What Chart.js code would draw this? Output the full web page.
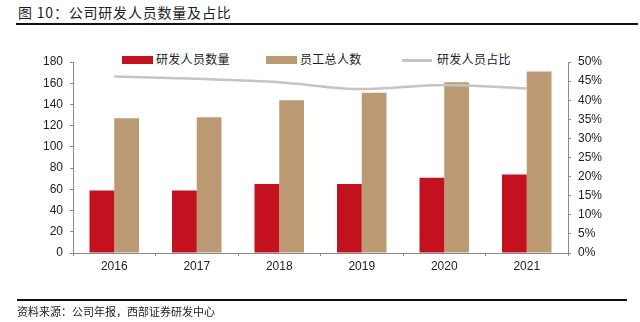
<!DOCTYPE html>
<html>
<head>
<meta charset="utf-8">
<script src="https://cdn.jsdelivr.net/npm/chart.js@4.4.1/dist/chart.umd.min.js"></script>
<style>
    body { margin: 0; background: #fff; }
    #wrap { position: relative; width: 640px; height: 322px; overflow: hidden; font-family: "Noto Sans CJK SC", sans-serif; }
    #title { position: absolute; left: 18px; top: 3px; font-size: 14px; line-height: 18px; letter-spacing: 0.8px; color: #222; }
    #topLine { position: absolute; left: 16px; top: 23px; width: 622px; height: 2px; background: #111; }
    #bottomLine { position: absolute; left: 17px; top: 299px; width: 610px; height: 1.5px; background: #111; }
    #source { position: absolute; left: 17px; top: 304px; font-size: 11px; line-height: 15px; color: #222; }
    .leg { position: absolute; top: 51px; font-size: 12px; line-height: 16px; color: #222; letter-spacing: 0.3px; }
    .box { position: absolute; top: 56px; width: 31px; height: 8px; }
    .lline { position: absolute; top: 59px; width: 30px; height: 2.5px; background: #c4c4c4; }
    canvas { position: absolute; left: 0; top: 0; }
</style>
</head>
<body>
<div id="wrap">
    <div id="title">图 10：公司研发人员数量及占比</div>
    <div id="topLine"></div>
    <div class="box" style="left:122px;background:#c3111f;"></div>
    <div class="leg" style="left:156px;">研发人员数量</div>
    <div class="box" style="left:266px;background:#bb9a74;"></div>
    <div class="leg" style="left:300px;">员工总人数</div>
    <div class="lline" style="left:402px;"></div>
    <div class="leg" style="left:437px;">研发人员占比</div>
    <canvas id="chart" width="640" height="322"></canvas>
    <div id="bottomLine"></div>
    <div id="source">资料来源：公司年报，西部证券研发中心</div>
</div>
<script>
    const years = ["2016", "2017", "2018", "2019", "2020", "2021"];
    const rdStaff = [59, 59, 65, 65, 71, 74];
    const totalStaff = [127, 128, 144, 151, 161, 171];
    const rdShare = [46.2, 45.6, 44.7, 42.9, 44.0, 43.1]; // percent

    const leftTicks = { min: 0, max: 180, step: 20 };
    const rightTicks = { min: 0, max: 50, step: 5 };

    const axisColor = "#8a8a8a";
    const tickFont = { family: "'Liberation Sans', Arial, sans-serif", size: 12 };

    const ctx = document.getElementById("chart").getContext("2d");

    new Chart(ctx, {
        data: {
            labels: years,
            datasets: [
                {
                    type: "line",
                    label: "研发人员占比",
                    data: rdShare,
                    yAxisID: "y1",
                    borderColor: "#c4c4c4",
                    borderWidth: 2.5,
                    pointRadius: 0,
                    tension: 0.4,
                    cubicInterpolationMode: "monotone",
                    order: 0,
                },
                {
                    type: "bar",
                    label: "研发人员数量",
                    data: rdStaff,
                    yAxisID: "y",
                    backgroundColor: "#c3111f",
                    order: 1,
                },
                {
                    type: "bar",
                    label: "员工总人数",
                    data: totalStaff,
                    yAxisID: "y",
                    backgroundColor: "#bb9a74",
                    order: 1,
                },
            ],
        },
        options: {
            responsive: false,
            animation: false,
            devicePixelRatio: 1,
            layout: { padding: { top: 62, left: 0, right: 0, bottom: 0 } },
            datasets: {
                bar: { categoryPercentage: 0.6, barPercentage: 1.0 },
            },
            plugins: {
                legend: { display: false },
                tooltip: { enabled: false },
            },
            scales: {
                x: {
                    grid: { drawOnChartArea: false, color: axisColor, tickLength: 3, offset: true },
                    border: { color: axisColor, width: 1 },
                    ticks: { color: "#222", font: tickFont, padding: 3 },
                    afterFit(scale) { scale.height = 69; },
                },
                y: {
                    position: "left",
                    min: leftTicks.min,
                    max: leftTicks.max,
                    grid: { drawOnChartArea: false, color: axisColor, tickLength: 3 },
                    border: { color: axisColor, width: 1 },
                    ticks: { stepSize: leftTicks.step, color: "#222", font: tickFont, padding: 7 },
                    afterFit(scale) { scale.width = 73; },
                },
                y1: {
                    position: "right",
                    min: rightTicks.min,
                    max: rightTicks.max,
                    grid: { drawOnChartArea: false, color: axisColor, tickLength: 3 },
                    border: { color: axisColor, width: 1 },
                    ticks: {
                        stepSize: rightTicks.step,
                        color: "#222",
                        font: tickFont,
                        padding: 7,
                        callback: (v) => v + "%",
                    },
                    afterFit(scale) { scale.width = 72; },
                },
            },
        },
    });
</script>
</body>
</html>
